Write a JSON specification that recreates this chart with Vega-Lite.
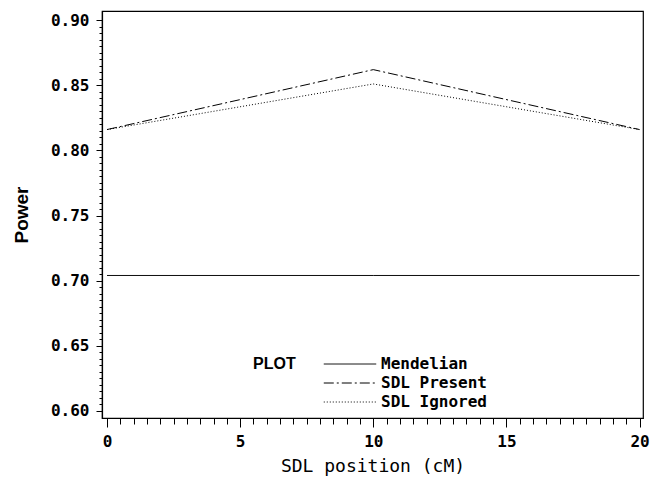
{
  "$schema": "https://vega.github.io/schema/vega-lite/v6.json",
  "width": 541,
  "height": 407,
  "autosize": {"type": "none"},
  "padding": {"left": 102, "top": 11, "right": 18, "bottom": 63},
  "background": "white",
  "config": {
    "view": {"stroke": "black", "strokeWidth": 1.2},
    "axis": {"grid": false, "domainColor": "black", "tickColor": "black", "labelColor": "black", "titleColor": "black"}
  },
  "data": {
    "values": [
      {"series": "Mendelian", "pos": 0, "power": 0.704},
      {"series": "Mendelian", "pos": 10, "power": 0.704},
      {"series": "Mendelian", "pos": 20, "power": 0.704},
      {"series": "SDL Present", "pos": 0, "power": 0.816},
      {"series": "SDL Present", "pos": 10, "power": 0.862},
      {"series": "SDL Present", "pos": 20, "power": 0.816},
      {"series": "SDL Ignored", "pos": 0, "power": 0.816},
      {"series": "SDL Ignored", "pos": 10, "power": 0.851},
      {"series": "SDL Ignored", "pos": 20, "power": 0.816}
    ]
  },
  "resolve": {"axis": {"x": "independent", "y": "independent"}},
  "layer": [
    {
      "mark": {"type": "line", "strokeOpacity": 0},
      "encoding": {
        "x": {"field": "pos", "type": "quantitative",
          "scale": {"domain": [-0.19, 20.13], "nice": false, "zero": false},
          "axis": {"orient": "bottom", "values": [0.5,1,1.5,2,2.5,3,3.5,4,4.5,5.5,6,6.5,7,7.5,8,8.5,9,9.5,10.5,11,11.5,12,12.5,13,13.5,14,14.5,15.5,16,16.5,17,17.5,18,18.5,19,19.5],
            "labels": false, "domain": false, "tickSize": 6, "tickWidth": 1, "title": null}},
        "y": {"field": "power", "type": "quantitative",
          "scale": {"domain": [0.5946, 0.907], "nice": false, "zero": false},
          "axis": {"orient": "left", "values": [0.605,0.61,0.615,0.62,0.625,0.63,0.635,0.64,0.645,0.655,0.66,0.665,0.67,0.675,0.68,0.685,0.69,0.695,0.705,0.71,0.715,0.72,0.725,0.73,0.735,0.74,0.745,0.755,0.76,0.765,0.77,0.775,0.78,0.785,0.79,0.795,0.805,0.81,0.815,0.82,0.825,0.83,0.835,0.84,0.845,0.855,0.86,0.865,0.87,0.875,0.88,0.885,0.89,0.895],
            "labels": false, "domain": false, "tickSize": 3, "tickWidth": 1, "title": null}},
        "detail": {"field": "series"}
      }
    },
    {
      "mark": {"type": "line", "strokeWidth": 1, "color": "black"},
      "encoding": {
        "x": {"field": "pos", "type": "quantitative",
          "scale": {"domain": [-0.19, 20.13], "nice": false, "zero": false},
          "axis": {"orient": "bottom", "values": [0, 5, 10, 15, 20], "format": "d",
            "tickSize": 9, "tickWidth": 1, "domainWidth": 1.2,
            "labelFont": "DejaVu Sans Mono", "labelFontWeight": "bold", "labelFontSize": 16, "labelPadding": 6,
            "title": "SDL position (cM)", "titleFont": "DejaVu Sans Mono", "titleFontWeight": "normal", "titleFontSize": 18, "titlePadding": 8}},
        "y": {"field": "power", "type": "quantitative",
          "scale": {"domain": [0.5946, 0.907], "nice": false, "zero": false},
          "axis": {"orient": "left", "values": [0.6, 0.65, 0.7, 0.75, 0.8, 0.85, 0.9], "format": ".2f",
            "tickSize": 6, "tickWidth": 1, "domainWidth": 1.2,
            "labelFont": "DejaVu Sans Mono", "labelFontWeight": "bold", "labelFontSize": 16, "labelPadding": 7,
            "title": "Power", "titleFont": "Liberation Sans", "titleFontWeight": "bold", "titleFontSize": 19, "titlePadding": 19}},
        "strokeDash": {"field": "series", "type": "nominal",
          "scale": {"domain": ["Mendelian", "SDL Present", "SDL Ignored"], "range": [[1, 0], [10, 3, 2, 3], [1, 2]]},
          "legend": {"title": "PLOT", "orient": "none", "legendX": 151, "legendY": 345, "padding": 0,
            "titleOrient": "left", "titleAnchor": "start", "titleBaseline": "top", "titleFont": "Liberation Sans", "titleFontWeight": "bold", "titleFontSize": 16, "titlePadding": 46,
            "titleColor": "black",
            "symbolType": "M-5,0H5", "symbolSize": 110, "symbolStrokeColor": "black", "symbolStrokeWidth": 1, "symbolFillColor": "transparent",
            "labelFont": "DejaVu Sans Mono", "labelFontWeight": "bold", "labelFontSize": 16, "labelColor": "black", "labelOffset": 23,
            "rowPadding": 3}}
      }
    }
  ]
}
